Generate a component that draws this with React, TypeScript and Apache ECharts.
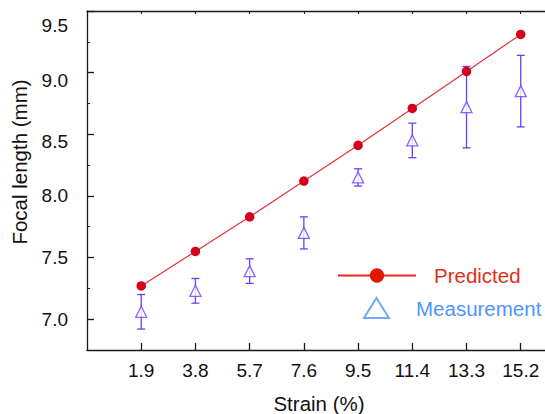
import React, { useEffect, useRef } from 'react';
import * as echarts from 'echarts';

const strain = [1.9, 3.8, 5.7, 7.6, 9.5, 11.4, 13.3, 15.2];
const predicted = [7.27, 7.55, 7.83, 8.12, 8.41, 8.71, 9.01, 9.31];
const measured = [7.06, 7.23, 7.39, 7.7, 8.15, 8.45, 8.72, 8.85];
const measuredErr = [0.14, 0.1, 0.1, 0.13, 0.07, 0.14, 0.33, 0.29];
const yMajorTicks = [7.0, 7.5, 8.0, 8.5, 9.0, 9.5];
const yMinorTicks = [7.25, 7.75, 8.25, 8.75, 9.25];
const xTicks = strain;

const FONT = '"Liberation Sans", Arial, Helvetica, sans-serif';
const AXIS = '#1a1a1a';
const ERR = '#6a3dff';

export default function App() {
  const ref = useRef<HTMLDivElement>(null);
  useEffect(() => {
    document.body.style.margin = '0';
    const chart = echarts.init(ref.current!, null, { renderer: 'svg' });
    const yFmt = (v: number) => {
      const s = v.toFixed(1);
      if (Math.abs(v - 9.5) < 1e-6) return `{a|${s}}`;
      if (Math.abs(v - 9.0) < 1e-6) return `{b|${s}}`;
      if (Math.abs(v - 8.5) < 1e-6) return `{c|${s}}`;
      return `{n|${s}}`;
    };
    const lab = { fontSize: 19, fontFamily: FONT, color: '#111' };
    chart.setOption({
      animation: false,
      backgroundColor: '#fff',
      grid: { left: 87, right: 0, top: 11, bottom: 64, containLabel: false, outerBoundsMode: 'none' },
      xAxis: [
        {
          type: 'value',
          min: 0,
          max: 16.05,
          position: 'bottom',
          name: 'Strain (%)',
          nameLocation: 'middle',
          nameGap: 43,
          nameTextStyle: { fontSize: 20.5, fontFamily: FONT, color: '#111', padding: [0, 0, 0, 6] },
          axisLine: { show: true, lineStyle: { color: AXIS, width: 1.3 } },
          axisTick: { show: true, inside: true, length: 7, customValues: xTicks, lineStyle: { color: AXIS, width: 1.3 } },
          axisLabel: { ...lab, margin: 11, customValues: xTicks, formatter: (v: number) => v.toFixed(1) },
          splitLine: { show: false },
        },
        {
          type: 'value',
          min: 0,
          max: 16.05,
          position: 'top',
          axisLine: { show: true, lineStyle: { color: AXIS, width: 1.3 } },
          axisTick: { show: true, inside: true, length: 3, customValues: xTicks, lineStyle: { color: AXIS, width: 1 } },
          axisLabel: { show: false },
          splitLine: { show: false },
        },
      ],
      yAxis: [
        {
          type: 'value',
          min: 6.75,
          max: 9.5,
          position: 'left',
          name: 'Focal length (mm)',
          nameLocation: 'middle',
          nameGap: 57,
          nameTextStyle: { fontSize: 20.5, fontFamily: FONT, color: '#111', padding: [0, 0, 0, 37] },
          axisLine: { show: true, lineStyle: { color: AXIS, width: 1.3 } },
          axisTick: { show: true, inside: true, length: 7, customValues: yMajorTicks, lineStyle: { color: AXIS, width: 1.3 } },
          axisLabel: {
            ...lab,
            margin: 19,
            customValues: yMajorTicks,
            formatter: yFmt,
            rich: {
              n: { ...lab },
              a: { ...lab, padding: [28, 0, 0, 0] },
              b: { ...lab, padding: [16, 0, 0, 0] },
              c: { ...lab, padding: [14, 0, 0, 0] },
            },
          },
          splitLine: { show: false },
        },
        {
          type: 'value',
          min: 6.75,
          max: 9.5,
          position: 'left',
          axisLine: { show: false },
          axisTick: { show: true, inside: true, length: 3, customValues: yMinorTicks, lineStyle: { color: AXIS, width: 1 } },
          axisLabel: { show: false },
          splitLine: { show: false },
        },
      ],
      legend: [
        {
          left: 337,
          top: 265,
          padding: 0,
          orient: 'vertical',
          selectedMode: false,
          itemWidth: 78,
          itemHeight: 18,
          textStyle: { fontSize: 20.5, fontFamily: FONT, padding: [0, 0, 0, 13] },
          data: [
            {
              name: 'Predicted',
              itemStyle: { color: '#e01a00' },
              lineStyle: { color: '#e62a1a', width: 2 },
              textStyle: { color: '#e0301a' },
            },
          ],
        },
        {
          left: 363,
          top: 297,
          padding: 0,
          orient: 'vertical',
          selectedMode: false,
          itemWidth: 25,
          itemHeight: 20,
          textStyle: { fontSize: 20.5, fontFamily: FONT, padding: [0, 0, 0, 22] },
          data: [
            {
              name: 'Measurement',
              icon: 'triangle',
              itemStyle: { color: '#fff', borderColor: '#4d94ff', borderWidth: 2 },
              textStyle: { color: '#4d94ff' },
            },
          ],
        },
      ],
      series: [
        {
          name: 'Measurement error',
          type: 'custom',
          z: 2,
          data: strain.map((x, i) => [x, measured[i] - measuredErr[i], measured[i] + measuredErr[i]]),
          renderItem: (params: any, api: any) => {
            const x = api.value(0);
            const lo = api.coord([x, api.value(1)]);
            const hi = api.coord([x, api.value(2)]);
            const hw = 4;
            const st = { stroke: ERR, lineWidth: 1.3 };
            return {
              type: 'group',
              children: [
                { type: 'line', shape: { x1: hi[0], y1: hi[1], x2: lo[0], y2: lo[1] }, style: st },
                { type: 'line', shape: { x1: hi[0] - hw, y1: hi[1], x2: hi[0] + hw, y2: hi[1] }, style: st },
                { type: 'line', shape: { x1: lo[0] - hw, y1: lo[1], x2: lo[0] + hw, y2: lo[1] }, style: st },
              ],
            };
          },
        },
        {
          name: 'Measurement',
          type: 'scatter',
          z: 3,
          symbol: 'triangle',
          symbolSize: 11,
          itemStyle: { color: '#fff', borderColor: ERR, borderWidth: 1.3 },
          data: strain.map((x, i) => [x, measured[i]]),
        },
        {
          name: 'Predicted',
          type: 'line',
          z: 4,
          symbol: 'circle',
          symbolSize: 9.5,
          itemStyle: { color: '#d6001c' },
          lineStyle: { color: '#e8303a', width: 1.2 },
          data: strain.map((x, i) => [x, predicted[i]]),
        },
      ],
    });
    return () => chart.dispose();
  }, []);
  return <div ref={ref} style={{ width: 545, height: 414 }} />;
}
